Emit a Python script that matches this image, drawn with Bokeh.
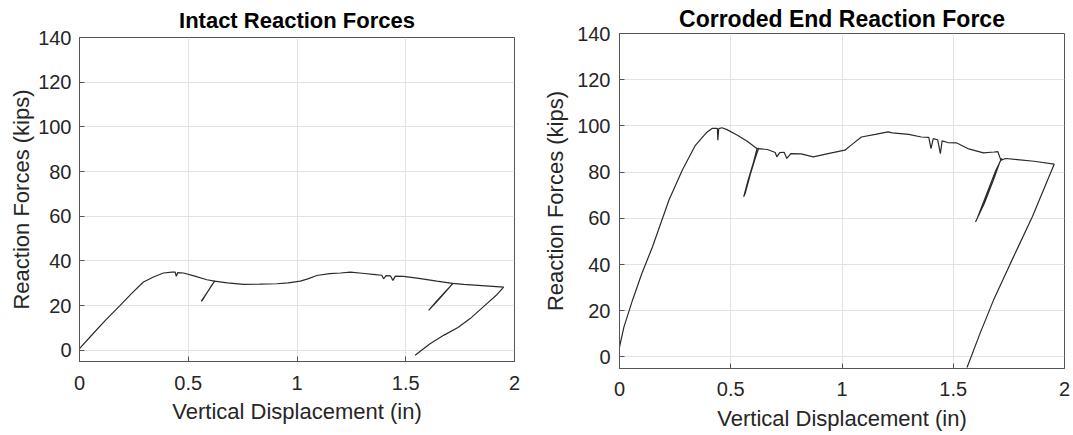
from bokeh.plotting import figure
from bokeh.layouts import row, column
from bokeh.models import FixedTicker, Range1d
from bokeh.embed import file_html
from bokeh.resources import INLINE

# ---------------- data ----------------
x_ticks = [0, 0.5, 1, 1.5, 2]
x_tick_labels = ["0", "0.5", "1", "1.5", "2"]
y_ticks = [0, 20, 40, 60, 80, 100, 120, 140]

# Intact: main loading curve
intact_x = [0, 0.06, 0.12, 0.187, 0.24, 0.294, 0.34, 0.386, 0.425, 0.44, 0.445, 0.452, 0.478,
            0.53, 0.586, 0.62, 0.68, 0.754, 0.83, 0.907, 0.96, 1.015, 1.05, 1.091, 1.15, 1.20,
            1.245, 1.30, 1.36, 1.39, 1.398, 1.41, 1.43, 1.441, 1.452, 1.49, 1.56, 1.643, 1.715,
            1.766, 1.85, 1.95]
intact_y = [0.8, 7.2, 13.5, 20.1, 25.5, 30.6, 32.8, 34.6, 35, 35, 33.1, 34.8, 34.6,
            33.2, 31.6, 31, 30.2, 29.5, 29.6, 29.8, 30.2, 31, 32, 33.5, 34.3, 34.6,
            35, 34.5, 33.9, 33.6, 32, 33.4, 33.3, 31.3, 33.2, 33.1, 32.2, 31, 30,
            29.5, 29, 28.3]
# Intact: unload / reload loops and final unloading
intact_loop1_x = [0.621, 0.60, 0.578, 0.56, 0.565, 0.585, 0.606, 0.624]
intact_loop1_y = [31.0, 27.8, 24.6, 22.0, 22.4, 25.6, 28.8, 31.2]
intact_loop2_x = [1.715, 1.68, 1.64, 1.605, 1.61, 1.645, 1.685, 1.718]
intact_loop2_y = [29.8, 25.8, 21.5, 17.9, 18.4, 22.3, 26.6, 30.0]
intact_unload_x = [1.95, 1.92, 1.873, 1.796, 1.74, 1.674, 1.61, 1.543]
intact_unload_y = [28.3, 25.0, 20.9, 14.2, 10.2, 6.7, 2.8, -2.2]

# Corroded end: main loading curve
corr_x = [0, 0.02, 0.06, 0.10, 0.148, 0.222, 0.282, 0.341, 0.39, 0.416, 0.44, 0.442,
          0.446, 0.46, 0.483, 0.53, 0.574, 0.617, 0.665, 0.70, 0.707, 0.72, 0.74, 0.752, 0.77,
          0.816, 0.871, 0.953, 1.013, 1.044, 1.087, 1.15, 1.207, 1.226, 1.30, 1.356, 1.39,
          1.40, 1.41, 1.43, 1.442, 1.45, 1.475, 1.514, 1.565, 1.636, 1.684, 1.70, 1.714,
          1.736, 1.788, 1.863, 1.954]
corr_y = [4.3, 13.0, 25.0, 36.0, 47.6, 67.8, 80.8, 91.6, 97, 98.9, 98.9, 93.8,
          98.8, 99.2, 98.4, 96, 93.4, 90.2, 89.8, 88.5, 86.6, 88.4, 88.6, 85.9, 88,
          87.9, 86.6, 88.3, 89.5, 91.9, 95.2, 96.3, 97.4, 97, 96.3, 95.2, 95,
          90.2, 94.5, 94, 88, 93.5, 92.8, 92.7, 90.2, 88.3, 88.7, 88.9, 85.2,
          85.9, 85.4, 84.7, 83.5]
# Corroded end: unload / reload loops and final unloading
corr_loop1_x = [0.619, 0.60, 0.578, 0.558, 0.565, 0.588, 0.61, 0.626]
corr_loop1_y = [90.5, 83.5, 76.5, 69.3, 70.8, 79.0, 86.0, 90.5]
corr_loop2_x = [1.714, 1.68, 1.64, 1.60, 1.607, 1.648, 1.688, 1.718]
corr_loop2_y = [85.5, 76.5, 66.5, 58.4, 59.8, 70.0, 80.0, 86.0]
corr_unload_x = [1.954, 1.856, 1.757, 1.681, 1.62, 1.562]
corr_unload_y = [83.5, 60.8, 40.5, 24.6, 10.1, -4.6]

title_left = "Intact Reaction Forces"
title_right = "Corroded End Reaction Force"
x_title = "Vertical Displacement (in)"
y_title = "Reaction Forces (kips)"

# ---------------- styling ----------------
FONT = "Liberation Sans"
TEXT = "#262626"
AXIS = "#555555"
GRID = "#e3e3e3"
LINE = "#2b2b2b"


def make_fig(title, width, bl, br, bt, bb, title_size, title_standoff, x_ts, x_ls, y_ts, y_ls):
    p = figure(width=width, height=435, output_backend="svg", toolbar_location=None,
               x_range=Range1d(0, 2), y_range=Range1d(-5, 140),
               min_border_left=bl, min_border_right=br, min_border_top=bt, min_border_bottom=bb,
               title=title)
    p.title.align = "center"
    p.title.text_font = FONT
    p.title.text_font_size = title_size
    p.title.text_font_style = "bold"
    p.title.text_color = "#000000"
    p.title.standoff = title_standoff

    p.outline_line_color = AXIS
    p.outline_line_width = 1
    p.background_fill_color = "white"
    p.border_fill_color = "white"

    p.xaxis.ticker = FixedTicker(ticks=x_ticks)
    p.xaxis.major_label_overrides = {t: l for t, l in zip(x_ticks, x_tick_labels)}
    p.yaxis.ticker = FixedTicker(ticks=y_ticks)
    p.xaxis.axis_label = x_title
    p.yaxis.axis_label = y_title
    for ax, ts, ls in ((p.xaxis, x_ts, x_ls), (p.yaxis, y_ts, y_ls)):
        ax.axis_label_text_font = FONT
        ax.axis_label_text_font_size = "22px"
        ax.axis_label_text_font_style = "normal"
        ax.axis_label_text_color = TEXT
        ax.axis_label_standoff = ls
        ax.major_label_text_font = FONT
        ax.major_label_text_font_size = "20px"
        ax.major_label_text_color = TEXT
        ax.major_label_standoff = ts
        ax.major_tick_in = 5
        ax.major_tick_out = 0
        ax.major_tick_line_color = AXIS
        ax.minor_tick_line_color = None
        ax.axis_line_color = AXIS
    p.yaxis.major_label_orientation = "horizontal"

    p.xgrid.ticker = FixedTicker(ticks=x_ticks)
    p.ygrid.ticker = FixedTicker(ticks=y_ticks)
    p.xgrid.grid_line_color = GRID
    p.ygrid.grid_line_color = GRID
    return p


# left: frame x 79..514, y 37..361
p1 = make_fig(title_left, 540, 79, 26, 37, 74, "22px", 9, 14, 6, 8, 1)
for xs, ys in ((intact_x, intact_y), (intact_loop1_x, intact_loop1_y),
               (intact_loop2_x, intact_loop2_y), (intact_unload_x, intact_unload_y)):
    p1.line(xs, ys, line_color=LINE, line_width=1.2)

# right: frame x 617..1064, y 33..368
p2 = make_fig(title_right, 533, 77, 9, 33, 67, "23px", 4, 13, 7, 9, 6)
for xs, ys in ((corr_x, corr_y), (corr_loop1_x, corr_loop1_y),
               (corr_loop2_x, corr_loop2_y), (corr_unload_x, corr_unload_y)):
    p2.line(xs, ys, line_color=LINE, line_width=1.2)

layout = row(column(p1), column(p2))
open("out.html", "w").write(file_html(layout, INLINE))
